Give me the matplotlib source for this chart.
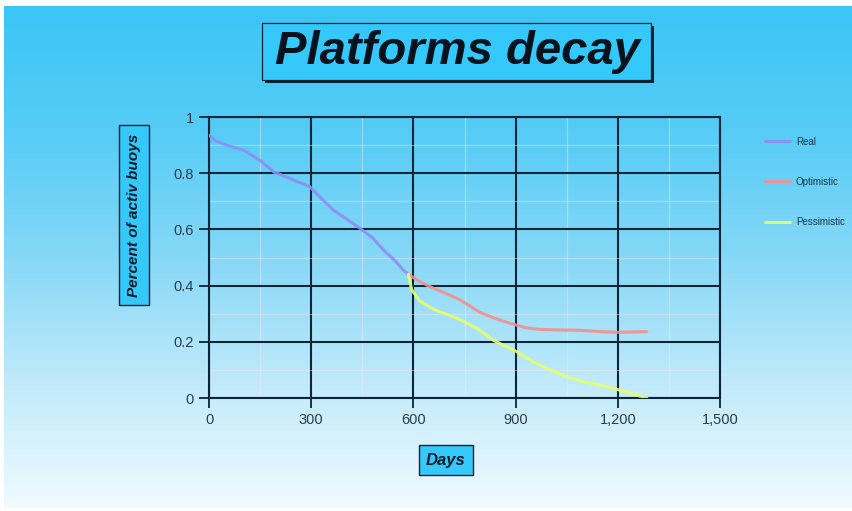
import numpy as np
import matplotlib
matplotlib.use("Agg")
import matplotlib.pyplot as plt
from matplotlib.patches import Rectangle
from matplotlib.colors import LinearSegmentedColormap

plt.rcParams['font.family'] = ['Liberation Sans', 'DejaVu Sans']

# ---- data ----
real_days = [0, 20, 50, 100, 150, 190, 240, 296, 330, 365, 400, 443, 480, 512, 545, 570, 585]
real_frac = [0.935, 0.915, 0.90, 0.883, 0.845, 0.805, 0.78, 0.752, 0.71, 0.669, 0.64, 0.604, 0.57, 0.527, 0.49, 0.456, 0.44]

opt_days = [585, 619, 660, 700, 737, 795, 840, 883, 930, 971, 1030, 1089, 1150, 1197, 1285]
opt_frac = [0.44, 0.414, 0.39, 0.37, 0.349, 0.305, 0.283, 0.266, 0.25, 0.244, 0.242, 0.241, 0.236, 0.234, 0.236]

pes_days = [585, 595, 619, 660, 700, 737, 790, 835, 903, 950, 1000, 1050, 1100, 1148, 1206, 1250, 1285]
pes_frac = [0.44, 0.385, 0.345, 0.315, 0.297, 0.279, 0.245, 0.205, 0.165, 0.13, 0.10, 0.076, 0.058, 0.046, 0.028, 0.012, 0.0]

series_names = ["Real", "Optimistic", "Pessimistic"]
x_ticks = [0, 300, 600, 900, 1200, 1500]
x_tick_labels = ["0", "300", "600", "900", "1,200", "1,500"]
y_ticks = [0, 0.2, 0.4, 0.6, 0.8, 1.0]
y_tick_labels = ["0", "0.2", "0.4", "0.6", "0.8", "1"]

W, H = 852, 511
fig = plt.figure(figsize=(W / 100, H / 100), dpi=100, facecolor="white")


def fx(px):
    return px / W


def fy(py):
    return 1 - py / H


# ---- sky-blue gradient backdrop ----
bg = fig.add_axes([fx(4), fy(508), fx(852 - 4), (508 - 6) / H])
bg.set_axis_off()
cmap = LinearSegmentedColormap.from_list(
    "sky", ["#3ac6f5", "#56ccf6", "#86d8f7", "#c0eafa", "#f0fbff"])
grad = np.linspace(0, 1, 256).reshape(-1, 1)
bg.imshow(grad, aspect="auto", cmap=cmap, extent=[0, 1, 1, 0])
bg.set_xlim(0, 1)
bg.set_ylim(1, 0)

# ---- title box with drop shadow ----
fig.patches.append(Rectangle((fx(265), fy(83)), fx(389), (57) / H,
                             transform=fig.transFigure, fc="#0b2233", ec="none", zorder=2))
fig.patches.append(Rectangle((fx(262), fy(80)), fx(389), (57) / H,
                             transform=fig.transFigure, fc="#35c9fb", ec="#0b2233",
                             lw=0.9, zorder=3))
fig.text(fx(457), fy(52), "Platforms decay", fontsize=34, fontweight="bold",
         fontstyle="italic", color="#06121c", ha="center", va="center", zorder=4)

# ---- main axes ----
ax = fig.add_axes([fx(209), fy(398), fx(720 - 209), (398 - 117) / H])
ax.patch.set_alpha(0)
ax.set_xlim(0, 1500)
ax.set_ylim(0, 1)

ax.set_xticks(x_ticks)
ax.set_xticklabels(x_tick_labels)
ax.set_yticks(y_ticks)
ax.set_yticklabels(y_tick_labels)
ax.set_xticks(np.arange(150, 1500, 300), minor=True)
ax.set_yticks(np.arange(0.1, 1.0, 0.2), minor=True)

ax.grid(which="major", color="#0c2538", lw=1.5)
ax.grid(which="minor", color="#f4e6ee", lw=0.9, alpha=0.45)
ax.tick_params(which="major", direction="out", length=7, width=1.3, color="#0c2538",
               labelsize=10.5, labelcolor="#2c3c4c", pad=4)
ax.tick_params(which="minor", length=0)
for s in ax.spines.values():
    s.set_color("#0c2538")
    s.set_linewidth(1.5)

lw = 2.2
ax.plot(real_days, real_frac, color="#8e8ef2", lw=lw, alpha=0.9, label=series_names[0],
        solid_capstyle="round", solid_joinstyle="round", zorder=5)
ax.plot(opt_days, opt_frac, color="#f2908e", lw=lw, alpha=0.9, label=series_names[1],
        solid_capstyle="round", solid_joinstyle="round", zorder=5)
ax.plot(pes_days, pes_frac, color="#e6ff6e", lw=lw, alpha=0.9, label=series_names[2],
        solid_capstyle="round", solid_joinstyle="round", zorder=5)

leg = ax.legend(loc="upper left", bbox_to_anchor=(fx(756), fy(128)),
                bbox_transform=fig.transFigure, frameon=False, fontsize=7,
                handlelength=2.6, handletextpad=0.6, labelspacing=3.1)
for t in leg.get_texts():
    t.set_color("#1d3448")

# ---- axis labels in boxes ----
fig.text(fx(134), fy(215), "Percent of activ buoys", rotation=90, fontsize=11,
         fontweight="bold", fontstyle="italic", color="#0a1a28", ha="center", va="center",
         bbox=dict(boxstyle="square,pad=0.55", fc="#35c9fb", ec="#0b2233", lw=1.0))
fig.text(fx(446), fy(460), "Days", fontsize=12, fontweight="bold",
         fontstyle="italic", color="#0a1a28", ha="center", va="center",
         bbox=dict(boxstyle="square,pad=0.45", fc="#35c9fb", ec="#0b2233", lw=1.0))

fig.savefig("out.png", dpi=100, facecolor="white")
